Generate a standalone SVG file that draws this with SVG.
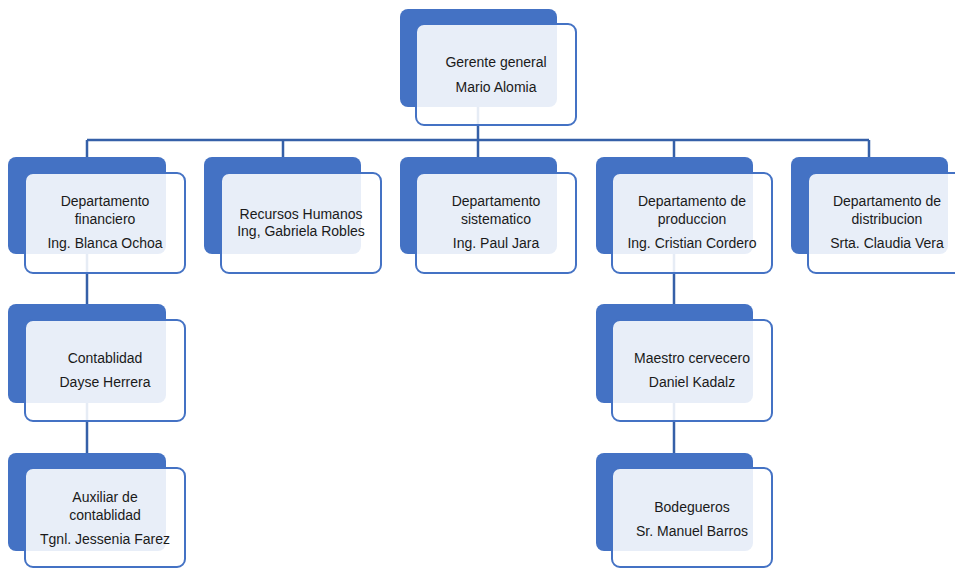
<svg xmlns="http://www.w3.org/2000/svg" width="955" height="569" viewBox="0 0 955 569">
<style>
.bk{fill:#4472C4}
.fr{fill:#ffffff;fill-opacity:0.88;stroke:#4472C4;stroke-width:2}
.cn{fill:none;stroke:#3560A8;stroke-width:2.5}
text{font-family:"Liberation Sans",Arial,sans-serif;font-size:14px;fill:#1a1a1a;text-anchor:middle}
</style>
<rect width="955" height="569" fill="#ffffff"/>
<g id="connectors">
<path class="cn" d="M478,106 V140 M87,140 H869 M87,140 V157 M283,140 V157 M478,140 V157 M674,140 V157 M869,140 V157"/>
<path class="cn" d="M87,254 V304 M87,403 V453 M674,254 V304 M674,403 V453"/>
</g>
<g id="n-gerente">
<rect class="bk" x="400" y="9" width="157" height="98" rx="8"/>
<rect class="fr" x="416" y="24" width="160" height="101" rx="8"/>
<text x="496" y="67">Gerente general</text>
<text x="496" y="92">Mario Alomia</text>
</g>
<g id="n-financiero">
<rect class="bk" x="8" y="157" width="158" height="97" rx="8"/>
<rect class="fr" x="25" y="173" width="160" height="100" rx="8"/>
<text x="105" y="206">Departamento</text>
<text x="105" y="224">financiero</text>
<text x="105" y="248">Ing. Blanca Ochoa</text>
</g>
<g id="n-rrhh">
<rect class="bk" x="204" y="157" width="157" height="97" rx="8"/>
<rect class="fr" x="221" y="173" width="160" height="100" rx="8"/>
<text x="301" y="219">Recursos Humanos</text>
<text x="301" y="236">Ing, Gabriela Robles</text>
</g>
<g id="n-sistematico">
<rect class="bk" x="400" y="157" width="157" height="97" rx="8"/>
<rect class="fr" x="416" y="173" width="160" height="100" rx="8"/>
<text x="496" y="206">Departamento</text>
<text x="496" y="224">sistematico</text>
<text x="496" y="248">Ing. Paul Jara</text>
</g>
<g id="n-produccion">
<rect class="bk" x="596" y="157" width="157" height="97" rx="8"/>
<rect class="fr" x="612" y="173" width="160" height="100" rx="8"/>
<text x="692" y="206">Departamento de</text>
<text x="692" y="224">produccion</text>
<text x="692" y="248">Ing. Cristian Cordero</text>
</g>
<g id="n-distribucion">
<rect class="bk" x="791" y="157" width="157" height="97" rx="8"/>
<rect class="fr" x="808" y="173" width="160" height="100" rx="8"/>
<text x="887" y="206">Departamento de</text>
<text x="887" y="224">distribucion</text>
<text x="887" y="248">Srta. Claudia Vera</text>
</g>
<g id="n-contablidad">
<rect class="bk" x="8" y="304" width="158" height="99" rx="8"/>
<rect class="fr" x="25" y="320" width="160" height="101" rx="8"/>
<text x="105" y="363">Contablidad</text>
<text x="105" y="387">Dayse Herrera</text>
</g>
<g id="n-maestro">
<rect class="bk" x="596" y="304" width="157" height="99" rx="8"/>
<rect class="fr" x="612" y="320" width="160" height="101" rx="8"/>
<text x="692" y="363">Maestro cervecero</text>
<text x="692" y="387">Daniel Kadalz</text>
</g>
<g id="n-auxiliar">
<rect class="bk" x="8" y="453" width="158" height="98" rx="8"/>
<rect class="fr" x="25" y="468" width="160" height="99" rx="8"/>
<text x="105" y="502">Auxiliar de</text>
<text x="105" y="520">contablidad</text>
<text x="105" y="544">Tgnl. Jessenia Farez</text>
</g>
<g id="n-bodegueros">
<rect class="bk" x="596" y="453" width="157" height="98" rx="8"/>
<rect class="fr" x="612" y="468" width="160" height="99" rx="8"/>
<text x="692" y="512">Bodegueros</text>
<text x="692" y="536">Sr. Manuel Barros</text>
</g>
</svg>
